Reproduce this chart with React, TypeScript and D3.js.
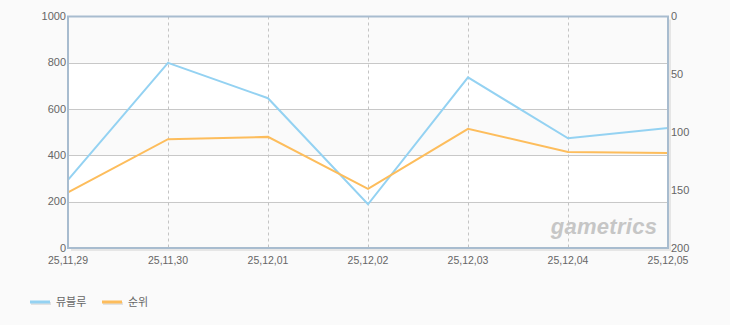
import React from "react";
import * as d3 from "d3";

const dates = ["25,11,29", "25,11,30", "25,12,01", "25,12,02", "25,12,03", "25,12,04", "25,12,05"];
const viewers = [294, 800, 647, 189, 737, 474, 518];
const ranks = [152, 106, 104, 149, 97, 117, 118];
const leftTicks = [0, 200, 400, 600, 800, 1000];
const rightTicks = [0, 50, 100, 150, 200];
const seriesNames = ["뮤블루", "순위"];

const W = 730, H = 325;
const L = 68, R = 668, T = 16.5, B = 248;
const BLUE = "#94d2f2";
const ORANGE = "#fdbd5c";
const FONT = "'Liberation Sans', Arial, sans-serif";

export default function App() {
  const x = d3.scalePoint<string>().domain(dates).range([L, R]);
  const yL = d3.scaleLinear().domain([0, 1000]).range([B, T]);
  const yR = d3.scaleLinear().domain([0, 200]).range([T, B]);
  const lineL = d3.line<number>().x((_, i) => x(dates[i])!).y((d) => yL(d));
  const lineR = d3.line<number>().x((_, i) => x(dates[i])!).y((d) => yR(d));
  const bands = d3.range(0, 1000, 200);

  return (
    <svg width={W} height={H} style={{ position: "absolute", left: 0, top: 0, background: "#fafafa" }} fontFamily={FONT}>
      <rect x={0} y={0} width={W} height={H} fill="#fafafa" />
      {/* shadow */}
      <rect x={L + 3} y={T + 3} width={R - L} height={B - T} fill="#e6e6e6" />
      <rect x={L} y={T} width={R - L} height={B - T} fill="#ffffff" />
      {bands.map((v, i) =>
        i % 2 === 0 ? (
          <rect key={v} x={L} y={yL(v + 200)} width={R - L} height={yL(v) - yL(v + 200)} fill="#fafafa" />
        ) : null
      )}
      {/* horizontal gridlines */}
      {leftTicks.slice(1, -1).map((v) => (
        <line key={v} x1={L} x2={R} y1={Math.round(yL(v)) + 0.5} y2={Math.round(yL(v)) + 0.5} stroke="#c8c8c8" strokeWidth={1} />
      ))}
      {/* vertical dashed gridlines */}
      {dates.slice(1, -1).map((d) => (
        <line key={d} x1={Math.round(x(d)!) + 0.5} x2={Math.round(x(d)!) + 0.5} y1={T} y2={B} stroke="#c4c4c4" strokeDasharray="3,3" />
      ))}
      {/* watermark */}
      <text x={604} y={234} textAnchor="middle" fontStyle="italic" fontWeight="bold" fontSize={22} fill="#c6c6c6" letterSpacing={0.3}>
        gametrics
      </text>
      {/* lines */}
      <path d={lineL(viewers)!} fill="none" stroke={BLUE} strokeWidth={2} />
      <path d={lineR(ranks)!} fill="none" stroke={ORANGE} strokeWidth={2} />
      {/* border */}
      <rect x={L} y={T} width={R - L} height={B - T} fill="none" stroke="#a8bccf" strokeWidth={2} />
      {/* left ticks */}
      {leftTicks.map((v) => (
        <text key={v} x={L - 2} y={yL(v) + 3.5} textAnchor="end" fontSize={11} fill="#666">
          {v}
        </text>
      ))}
      {/* right ticks */}
      {rightTicks.map((v) => (
        <text key={v} x={R + 3} y={yR(v) + 3.5} textAnchor="start" fontSize={11} fill="#666">
          {v}
        </text>
      ))}
      {/* x labels */}
      {dates.map((d) => (
        <text key={d} x={x(d)!} y={264} textAnchor="middle" fontSize={10.5} fill="#666">
          {d}
        </text>
      ))}
      {/* legend */}
      {seriesNames.map((n, i) => {
        const lx = 30 + i * 72;
        const c = i === 0 ? BLUE : ORANGE;
        return (
          <g key={n}>
            <line x1={lx + 1} x2={lx + 21} y1={303.5} y2={303.5} stroke="#e2e2e2" strokeWidth={3} />
            <line x1={lx} x2={lx + 20} y1={302} y2={302} stroke={c} strokeWidth={3} />
            <text x={lx + 26} y={306} fontSize={11} fill="#666" fontFamily="'Noto Sans CJK KR', sans-serif">
              {n}
            </text>
          </g>
        );
      })}
    </svg>
  );
}
